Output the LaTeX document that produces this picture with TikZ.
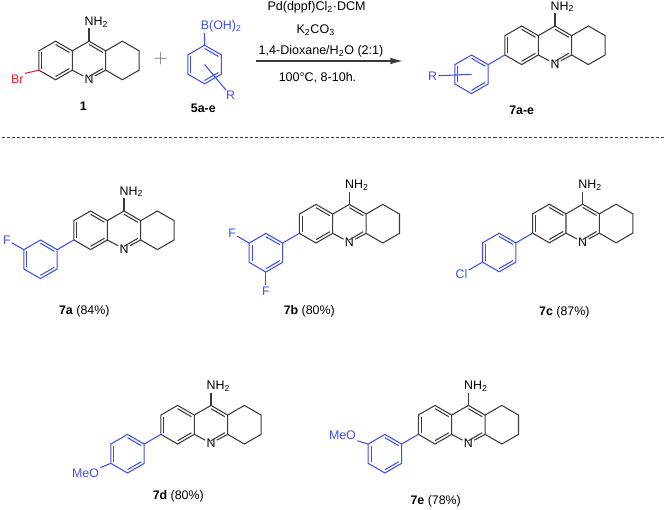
\documentclass[tikz,border=0pt]{standalone}
\usepackage{fontspec}
\setmainfont{Liberation Sans}
\usetikzlibrary{arrows.meta,calc}
\definecolor{bondgray}{HTML}{3A3A3A}
\definecolor{arylblue}{HTML}{3F50EE}
\definecolor{brred}{HTML}{F0203C}
\tikzstyle{bond} = [draw=bondgray, line width=0.8pt]
\tikzstyle{arylbond} = [draw=arylblue, line width=0.8pt]
\tikzstyle{atom} = [inner sep=0.8pt, text=black, font=\fontsize{9.3}{11}\selectfont]
\tikzstyle{arylatom} = [atom, text=arylblue]
\tikzstyle{caption} = [inner sep=0pt, text=black, font=\fontsize{9.3}{11}\selectfont]
\tikzstyle{reagent} = [caption, anchor=base, font=\fontsize{9.4}{11}\selectfont]
% short inner line of a double bond: ends, then ring centre
\newcommand{\innerbond}[3]{\path ($(#1)!.17!(#3)$) -- ($(#2)!.17!(#3)$);}
% the two-and-a-half ring core, origin in the middle ring
\tikzset{
  core/.pic={
    \coordinate (-c9) at (0,-19.3);
    \coordinate (-c9a) at (16.7,-9.65);
    \coordinate (-c4a) at (16.7,9.65);
    \coordinate (-c10a) at (-16.7,9.65);
    \coordinate (-c8a) at (-16.7,-9.65);
    \coordinate (-c8) at (-33.4,-19.3);
    \coordinate (-c7) at (-50.1,-9.65);
    \coordinate (-c6) at (-50.1,9.65);
    \coordinate (-c5) at (-33.4,19.3);
    \coordinate (-c1) at (33.4,-19.3);
    \coordinate (-c2) at (50.1,-9.65);
    \coordinate (-c3) at (50.1,9.65);
    \coordinate (-c4) at (33.4,19.3);
    \coordinate (-mid) at (0,0);
    \coordinate (-left) at (-33.4,0);
    \node [atom] (-n) at (0,18.6) {N};
    \node [atom, anchor=south west] (-nh) at (-5.6,-32) {NH\textsubscript{2}};
    \begin{scope}[every path/.style=bond]
      \path (-c9) -- (-c9a) -- (-c4a) -- (-n);
      \path (-n) -- (-c10a) -- (-c8a) -- (-c9);
      \path (-c8a) -- (-c8) -- (-c7) -- (-c6) -- (-c5) -- (-c10a);
      \path (-c9a) -- (-c1) -- (-c2) -- (-c3) -- (-c4) -- (-c4a);
      \path (-c9) -- ($(-nh.south west)+(5.6,0)$);
      \innerbond{-c9}{-c9a}{-mid}
      \innerbond{-c4a}{0,19.3}{-mid}
      \innerbond{-c8}{-c8a}{-left}
      \innerbond{-c7}{-c6}{-left}
      \innerbond{-c5}{-c10a}{-left}
    \end{scope}
  },
  aryl/.pic={
    \coordinate (-cen) at (0,0);
    \coordinate (-t) at (0,-19.3);
    \coordinate (-ur) at (16.7,-9.65);
    \coordinate (-lr) at (16.7,9.65);
    \coordinate (-b) at (0,19.3);
    \coordinate (-ll) at (-16.7,9.65);
    \coordinate (-ul) at (-16.7,-9.65);
    \begin{scope}[every path/.style=arylbond]
      \path (-t) -- (-ur) -- (-lr) -- (-b) -- (-ll) -- (-ul) -- cycle;
      \innerbond{-t}{-ur}{-cen}
      \innerbond{-lr}{-b}{-cen}
      \innerbond{-ll}{-ul}{-cen}
    \end{scope}
  }
}
% core plus blue aryl ring, hooked up at c6
\newcommand{\product}[3]{
  \pic (#1) at (#2,#3) {core};
  \pic (#1) at ($(#2,#3)+(-83.5,29)$) {aryl};
  \draw [arylbond] (#1-c6) -- (#1-ur);
}
\begin{document}
\begin{tikzpicture}[x=0.75pt, y=-0.75pt]
  \useasboundingbox (0,0) rectangle (667,510);

  % top row: reaction
  \pic (sm) at (89,60.5) {core};
  \node [atom, text=brred] (br) at (17.3,79) {Br};
  \draw [bond, draw=brred] (sm-c6) -- (br.north east);
  \node [caption] (lab1) at (83.3,106) {\textbf{1}};

  \node [inner sep=0pt, text=bondgray!80, font=\fontsize{14}{14}\selectfont] (plus) at (160.7,58.3) {$+$};

  \pic (ba) at (204.6,64.5) {aryl};
  \node [arylatom, anchor=south west] (boh) at (199.6,33) {B(OH)\textsubscript{2}};
  \node [arylatom] (rba) at (230.7,95.7) {R};
  \draw [arylbond] (ba-t) -- ($(boh.south west)+(4.8,0)$);
  \draw [arylbond] (ba-cen) -- (rba);
  \node [caption] (lab5) at (203.3,108) {\textbf{5a-e}};

  % arrow and conditions
  \coordinate (arrowstart) at (256,61);
  \coordinate (arrowend) at (403,61);
  \draw [bond, line width=1pt, -{Latex[length=9.5pt,width=5pt]}] (arrowstart) -- (arrowend);
  \node [reagent] (pd) at (316.6,10.7) {Pd(dppf)Cl\textsubscript{2}\textperiodcentered DCM};
  \node [reagent] (base) at (315.7,33.3) {K\textsubscript{2}CO\textsubscript{3}};
  \node [reagent] (solvent) at (321,55) {1,4-Dioxane/H\textsubscript{2}O (2:1)};
  \node [reagent] (temp) at (317.5,81.7) {100°C, 8-10h.};

  \product{pg}{555}{45.3}
  \node [arylatom] (rpg) at (432.7,76) {R};
  \draw [arylbond] (pg-cen) -- (rpg);
  \node [caption] (labp) at (521.7,110.7) {\textbf{7a-e}};

  % separator
  \coordinate (sepl) at (2,137.7);
  \coordinate (sepr) at (665,137.7);
  \draw [bondgray, line width=0.6pt, dash pattern=on 2.3pt off 1.5pt] (sepl) -- (sepr);

  % products
  \product{a}{124}{230.3}
  \node [arylatom] (fa) at ($(a-ul)+(-17,-9.7)$) {F};
  \draw [arylbond] (a-ul) -- (fa);
  \node [caption] (laba) at (84.3,311) {\textbf{7a} (84\%)};

  \product{b}{349.4}{223.7}
  \node [arylatom] (fb1) at ($(b-ul)+(-17,-9.7)$) {F};
  \node [arylatom] (fb2) at ($(b-b)+(0,19)$) {F};
  \draw [arylbond] (b-ul) -- (fb1);
  \draw [arylbond] (b-b) -- (fb2);
  \node [caption] (labb) at (309.3,311.7) {\textbf{7b} (80\%)};

  \product{c}{582.7}{223.5}
  \node [arylatom] (clc) at ($(c-ll)+(-21,12)$) {Cl};
  \draw [arylbond] (c-ll) -- (clc);
  \node [caption] (labc) at (564.3,312.7) {\textbf{7c} (87\%)};

  \product{d}{211}{424.7}
  \node [arylatom, anchor=east] (omed) at ($(d-ll)+(-10.5,10)$) {MeO};
  \draw [arylbond] (d-ll) -- (omed.north east);
  \node [caption] (labd) at (178.3,496.7) {\textbf{7d} (80\%)};

  \product{e}{468.4}{424.7}
  \node [arylatom, anchor=east] (omee) at ($(e-ul)+(-11,-9)$) {MeO};
  \draw [arylbond] (e-ul) -- (omee.south east);
  \node [caption] (labe) at (435.7,501.7) {\textbf{7e} (78\%)};
\end{tikzpicture}
\end{document}
